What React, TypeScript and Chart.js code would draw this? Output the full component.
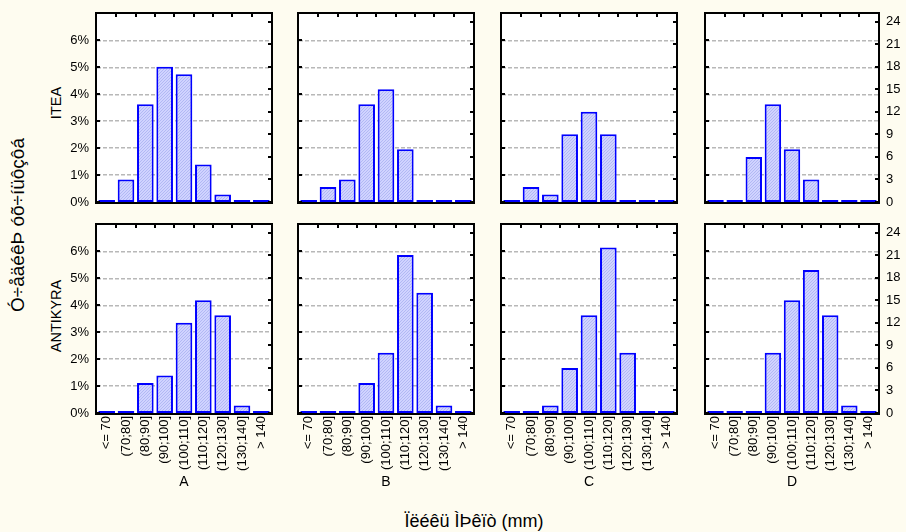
import React, { useEffect, useRef } from 'react';
import { Chart, registerables } from 'chart.js';

Chart.register(...registerables);

// ---------- data ----------
const categories = ['<= 70', '(70;80]', '(80;90]', '(90;100]', '(100;110]', '(110;120]', '(120;130]', '(130;140]', '> 140'];
const groups = ['A', 'B', 'C', 'D'];
const sites = ['ITEA', 'ANTIKYRA'];

// counts per length class (right axis = counts, left axis = % of total)
const iteaA = [0, 3, 13, 18, 17, 5, 1, 0, 0];
const iteaB = [0, 2, 3, 13, 15, 7, 0, 0, 0];
const iteaC = [0, 2, 1, 9, 12, 9, 0, 0, 0];
const iteaD = [0, 0, 6, 13, 7, 3, 0, 0, 0];
const antikyraA = [0, 0, 4, 5, 12, 15, 13, 1, 0];
const antikyraB = [0, 0, 0, 4, 8, 21, 16, 1, 0];
const antikyraC = [0, 0, 1, 6, 13, 22, 8, 0, 0];
const antikyraD = [0, 0, 0, 8, 15, 19, 13, 1, 0];

const totalN = 358;
const countMax = 25;
const countStep = 3;
const pctStep = 1;

const yTitle = 'Ó÷åäéêÞ óõ÷íüôçôá';
const xTitle = 'Ïëéêü ÌÞêïò (mm)';

const rows = [
  [iteaA, iteaB, iteaC, iteaD],
  [antikyraA, antikyraB, antikyraC, antikyraD],
];

// ---------- layout / style ----------
const FONT = "'Liberation Sans', Arial, sans-serif";
const PAGE_BG = '#FEFCF0';
const COL_LEFT = [97, 299, 502, 706];
const COL_W = [174, 174, 174, 172];
const ROW_TOP = [14, 225];
const ROW_H = [188, 188];

function makePattern(): CanvasPattern | string {
  const c = document.createElement('canvas');
  c.width = 3;
  c.height = 3;
  const g = c.getContext('2d');
  if (!g) return '#C8CCFF';
  g.fillStyle = '#D0D3FF';
  g.fillRect(0, 0, 3, 3);
  g.fillStyle = '#B2B8F4';
  // diagonal (bottom-left to top-right) one-pixel hatch
  g.fillRect(0, 2, 1, 1);
  g.fillRect(1, 1, 1, 1);
  g.fillRect(2, 0, 1, 1);
  return g.createPattern(c, 'repeat') || '#C8CCFF';
}

const framePlugin = {
  id: 'frame',
  beforeDraw(chart: any) {
    const { ctx, chartArea: a } = chart;
    ctx.save();
    ctx.fillStyle = '#FFFFFF';
    ctx.fillRect(a.left, a.top, a.right - a.left, a.bottom - a.top);
    ctx.restore();
  },
  afterDraw(chart: any) {
    const { ctx, chartArea: a, scales } = chart;
    ctx.save();
    ctx.strokeStyle = '#000000';
    ctx.lineWidth = 2;
    ctx.beginPath();
    const x = scales.x;
    for (let i = 0; i < x.ticks.length - 1; i++) {
      const px = Math.round((x.getPixelForTick(i) + x.getPixelForTick(i + 1)) / 2);
      ctx.moveTo(px, a.top);
      ctx.lineTo(px, a.top + 3);
    }
    const yc = scales.yCount;
    yc.ticks.forEach((t: any) => {
      const py = Math.round(yc.getPixelForValue(t.value));
      ctx.moveTo(a.right, py);
      ctx.lineTo(a.right - 3, py);
    });
    const yp = scales.yPct;
    yp.ticks.forEach((t: any) => {
      const py = Math.round(yp.getPixelForValue(t.value));
      ctx.moveTo(a.left, py);
      ctx.lineTo(a.left + 3, py);
    });
    ctx.stroke();
    ctx.lineWidth = 2;
    ctx.strokeRect(a.left - 1, a.top - 1, a.right - a.left + 2, a.bottom - a.top + 2);
    ctx.restore();
  },
};

function Panel({ row, col, values }: { row: number; col: number; values: number[] }) {
  const ref = useRef<HTMLCanvasElement>(null);
  const padL = col === 0 ? 32 : 4;
  const padR = col === 3 ? 28 : 4;
  const padT = 8;
  const padB = row === 1 ? 78 : 10;
  const w = COL_W[col];
  const h = ROW_H[row];
  const cw = padL + w + padR;
  const ch = padT + h + padB;
  const left = COL_LEFT[col] - padL;
  const top = ROW_TOP[row] - padT;

  useEffect(() => {
    if (!ref.current) return;
    const pattern = makePattern();
    const chart = new Chart(ref.current, {
      type: 'bar',
      data: {
        labels: categories,
        datasets: [
          {
            data: values,
            yAxisID: 'yCount',
            backgroundColor: pattern as any,
            borderColor: '#0000FF',
            borderWidth: 2,
            borderSkipped: false,
            barPercentage: 0.86,
            categoryPercentage: 1,
            minBarLength: 2,
          } as any,
        ],
      },
      options: {
        responsive: false,
        animation: false,
        devicePixelRatio: 1,
        layout: { padding: { top: padT, left: 0, right: 0, bottom: 0 } },
        plugins: { legend: { display: false }, tooltip: { enabled: false } },
        scales: {
          x: {
            type: 'category',
            position: 'bottom',
            offset: true,
            grid: { display: false, drawTicks: false },
            border: { display: false },
            ticks: {
              display: row === 1,
              autoSkip: false,
              minRotation: 90,
              maxRotation: 90,
              padding: 3,
              color: '#000000',
              font: { family: FONT, size: 13 },
            },
            title: {
              display: row === 1,
              text: groups[col],
              color: '#000000',
              font: { family: FONT, size: 14 },
              padding: 0,
            },
            afterFit: (s: any) => {
              s.height = padB;
              s.paddingLeft = 0;
              s.paddingRight = 0;
              s.paddingTop = 0;
              s.paddingBottom = 0;
            },
          },
          yPct: {
            type: 'linear',
            position: 'left',
            min: 0,
            max: (countMax * 100) / totalN,
            grid: {
              color: (c: any) => (c.tick && c.tick.value === 0 ? 'rgba(0,0,0,0)' : '#B8B8B8'),
              lineWidth: 1.5,
              drawTicks: false,
            },
            border: { display: false, dash: [4, 2] },
            ticks: {
              display: col === 0,
              stepSize: pctStep,
              includeBounds: false,
              padding: 8,
              color: '#000000',
              font: { family: FONT, size: 13 },
              callback: (v: any) => v + '%',
            },
            afterFit: (s: any) => {
              s.width = padL;
              s.paddingLeft = 0;
              s.paddingRight = 0;
              s.paddingTop = 0;
              s.paddingBottom = 0;
            },
          },
          yCount: {
            type: 'linear',
            position: 'right',
            min: 0,
            max: countMax,
            grid: { display: false, drawTicks: false },
            border: { display: false },
            ticks: {
              display: col === 3,
              stepSize: countStep,
              includeBounds: false,
              padding: 8,
              color: '#000000',
              font: { family: FONT, size: 13 },
            },
            afterFit: (s: any) => {
              s.width = padR;
              s.paddingLeft = 0;
              s.paddingRight = 0;
              s.paddingTop = 0;
              s.paddingBottom = 0;
            },
          },
        },
      } as any,
      plugins: [framePlugin],
    });
    return () => chart.destroy();
  }, []);

  return (
    <canvas
      ref={ref}
      width={cw}
      height={ch}
      style={{ position: 'absolute', left, top, width: cw, height: ch }}
    />
  );
}

function RotText({ text, cx, cy, size, w, lh }: { text: string; cx: number; cy: number; size: number; w: number; lh: number }) {
  return (
    <div
      style={{
        position: 'absolute',
        left: cx - w / 2,
        top: cy - lh / 2,
        width: w,
        height: lh,
        lineHeight: lh + 'px',
        fontFamily: FONT,
        fontSize: size,
        color: '#000',
        textAlign: 'center',
        whiteSpace: 'nowrap',
        transform: 'rotate(-90deg)',
      }}
    >
      {text}
    </div>
  );
}

export default function App() {
  return (
    <div
      style={{
        position: 'fixed',
        left: 0,
        top: 0,
        width: 906,
        height: 532,
        background: PAGE_BG,
        overflow: 'hidden',
      }}
    >
      {rows.map((r, ri) => r.map((vals, ci) => <Panel key={ri + '-' + ci} row={ri} col={ci} values={vals} />))}
      <RotText text={yTitle} cx={18.4} cy={225} size={19} w={260} lh={22} />
      <RotText text={sites[0]} cx={55.7} cy={102.5} size={14.5} w={120} lh={18} />
      <RotText text={sites[1]} cx={55.7} cy={316} size={14.5} w={120} lh={18} />
      <div
        style={{
          position: 'absolute',
          left: 274,
          top: 512,
          width: 400,
          height: 18,
          lineHeight: '18px',
          textAlign: 'center',
          fontFamily: FONT,
          fontSize: 18,
          color: '#000',
          whiteSpace: 'nowrap',
        }}
      >
        {xTitle}
      </div>
    </div>
  );
}
